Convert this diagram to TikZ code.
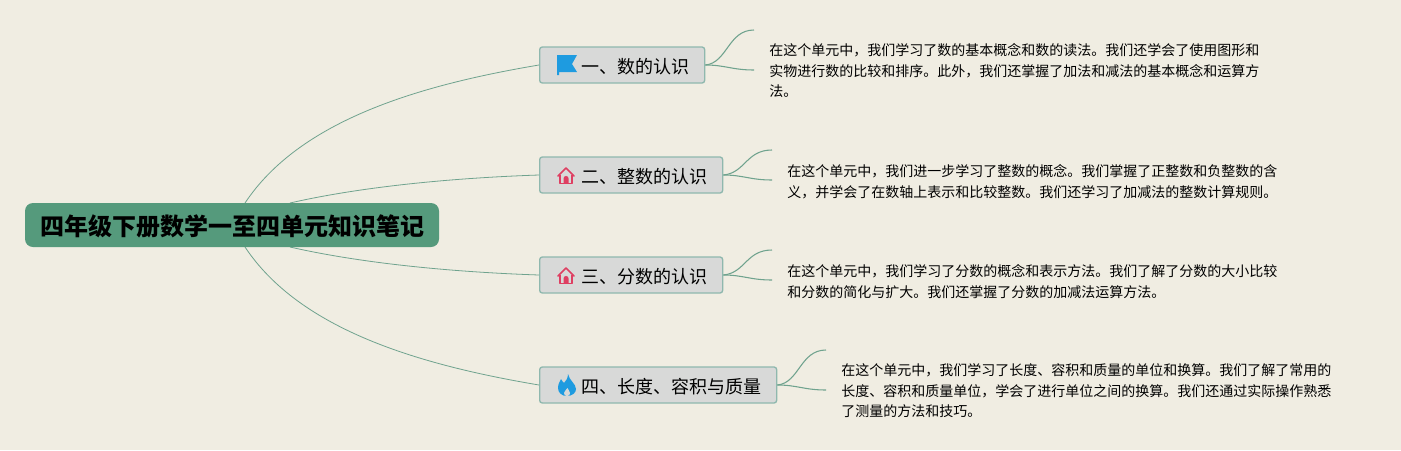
\documentclass[tikz,border=0pt]{standalone}
\usepackage{fontspec}
\setmainfont{Noto Sans CJK SC}
\definecolor{paperbg}{HTML}{F0EDE2}
\definecolor{rootfill}{HTML}{559A7C}
\definecolor{topicfill}{HTML}{D8D9D8}
\definecolor{topicline}{HTML}{8FB8AE}
\definecolor{branchline}{HTML}{6FA38E}
\definecolor{flagblue}{HTML}{1E9BE0}
\definecolor{housered}{HTML}{DE3F62}
\tikzset{rootbox/.style={shape=rectangle,rounded corners=6pt,fill=rootfill,minimum height=33pt,inner xsep=0pt,inner ysep=0pt,text height=18.3pt,text depth=2.1pt,font=\fontsize{18}{22}\selectfont\bfseries,text=black}}
\tikzset{topicbox/.style={shape=rectangle,rounded corners=2pt,draw=topicline,line width=1pt,fill=topicfill,minimum height=27pt,inner xsep=11.25pt,inner ysep=0pt,text height=14.7pt,text depth=2pt,anchor=west,font=\fontsize{13.5}{16}\selectfont,text=black}}
\tikzset{notebox/.style={anchor=west,align=left,inner sep=0pt,font=\fontsize{10.5}{15.4}\selectfont,text=black}}
\tikzset{rootlink/.style={draw=branchline,line width=.6pt}}
\tikzset{notelink/.style={draw=branchline,line width=.8pt}}
\newcommand{\topiclabel}[1]{\hspace{20.25pt}#1}
\begin{document}
\begin{tikzpicture}[x=.75pt,y=-.75pt]
            \useasboundingbox[fill=paperbg] (0,0) rectangle (1401,450);
            % setup the nodes
            \coordinate (rootA) at (245,203);
            \coordinate (rootB) at (290,203);
            \coordinate (rootC) at (290,247);
            \coordinate (rootD) at (245,247);
            \node[topicbox] (topic1) at (539,65){\topiclabel{一、数的认识}};
            \node[topicbox] (topic2) at (539,175){\topiclabel{二、整数的认识}};
            \node[topicbox] (topic3) at (539,275){\topiclabel{三、分数的认识}};
            \node[topicbox] (topic4) at (539,385){\topiclabel{四、长度、容积与质量}};
            \node[notebox] (note1) at (769,71){在这个单元中，我们学习了数的基本概念和数的读法。我们还学会了使用图形和\\实物进行数的比较和排序。此外，我们还掌握了加法和减法的基本概念和运算方\\法。};
            \node[notebox] (note2) at (787,181.5){在这个单元中，我们进一步学习了整数的概念。我们掌握了正整数和负整数的含\\义，并学会了在数轴上表示和比较整数。我们还学习了加减法的整数计算规则。};
            \node[notebox] (note3) at (787,281.5){在这个单元中，我们学习了分数的概念和表示方法。我们了解了分数的大小比较\\和分数的简化与扩大。我们还掌握了分数的加减法运算方法。};
            \node[notebox] (note4) at (841,391){在这个单元中，我们学习了长度、容积和质量的单位和换算。我们了解了常用的\\长度、容积和质量单位，学会了进行单位之间的换算。我们还通过实际操作熟悉\\了测量的方法和技巧。};
            % root to topics
            \draw[rootlink] (rootA) .. controls (300,120) and (420,85) .. (topic1.west);
            \draw[rootlink] (rootB) .. controls (360,187) and (450,178) .. (topic2.west);
            \draw[rootlink] (rootC) .. controls (360,263) and (450,272) .. (topic3.west);
            \draw[rootlink] (rootD) .. controls (300,330) and (420,365) .. (topic4.west);
            \node[rootbox,minimum width=310.5pt] (root) at (232,225){四年级下册数学一至四单元知识笔记};
            % topics to notes
            \coordinate (end1a) at (754,30);
            \coordinate (end1b) at (754,70);
            \coordinate (end2a) at (772,150);
            \coordinate (end2b) at (772,180);
            \coordinate (end3a) at (772,250);
            \coordinate (end3b) at (772,280);
            \coordinate (end4a) at (826,350);
            \coordinate (end4b) at (826,390);
            \foreach \mytopic in {1,2,3,4}
            {
                \draw[notelink] (topic\mytopic.east) .. controls +(22,-2) and ([xshift=-19.5pt]end\mytopic a) .. (end\mytopic a);
                \draw[notelink] (topic\mytopic.east) .. controls +(20,0) and ([xshift=-16.5pt]end\mytopic b) .. (end\mytopic b);
            }
            % flag
            \fill[flagblue] (557,75) -- (557,55) -- (577,55) -- (572,64) -- (577,72) -- (559,72) -- (559,75) -- cycle;
            % houses
            \foreach \myy in {176,276}
            {
                \draw[housered,line width=1.2pt,line join=round,line cap=round] (558,\myy+0) -- (566,\myy-8) -- (574,\myy+0);
                \draw[housered,line width=1.2pt,line join=round] (560,\myy-1) -- (560,\myy+7.5) -- (572,\myy+7.5) -- (572,\myy-1);
                \fill[housered] (563.5,\myy+7.5) -- (563.5,\myy+2.5) arc[start angle=180,end angle=0,radius=1.9pt] -- (568.5,\myy+7.5) -- cycle;
            }
            % flame
            \fill[flagblue] (568,374) .. controls (569,380) and (576,384) .. (576,389)
                .. controls (576,393) and (572,396) .. (567,396)
                .. controls (562,396) and (558,393) .. (558,388)
                .. controls (558,384) and (560,381) .. (561,379)
                .. controls (562,381) and (563,382) .. (564,383)
                .. controls (566,381) and (568,378) .. (568,374) -- cycle;
            \fill[topicfill] (567.5,388) .. controls (568,390) and (570,391) .. (570,393)
                .. controls (570,395) and (569,396) .. (567,396)
                .. controls (565,396) and (564,395) .. (564,393)
                .. controls (564,391) and (566.5,390) .. (567.5,388) -- cycle;
\end{tikzpicture}
\end{document}
